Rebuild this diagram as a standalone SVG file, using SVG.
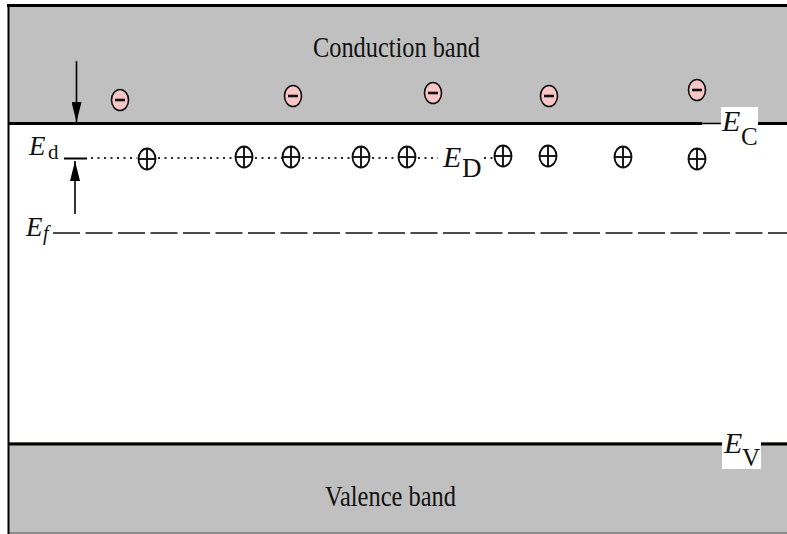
<svg xmlns="http://www.w3.org/2000/svg" width="787" height="534" viewBox="0 0 787 534">
<style>
.band{fill:#c0c0c0}
.lbl{font-family:"Liberation Serif","Times New Roman",serif;fill:#111}
.it{font-style:italic}
.dots{stroke:#2a2a2a;stroke-width:1.8;stroke-dasharray:2 4.5;fill:none}
</style>
<defs>
<marker id="ah" markerWidth="20" markerHeight="10" refX="20" refY="5" orient="auto" markerUnits="userSpaceOnUse">
<path d="M0,0 L20,5 L0,10 Z" fill="#000"/>
</marker>
<g id="m"><ellipse cx="0" cy="0" rx="8.5" ry="10.5" fill="#f8c6c6" stroke="#111" stroke-width="1.6"/><line x1="-5" y1="0" x2="5" y2="0" stroke="#111" stroke-width="2.6"/></g>
<g id="p"><ellipse cx="0" cy="0" rx="8.5" ry="10.5" fill="#fff" stroke="#111" stroke-width="1.9"/><line x1="-8.5" y1="0" x2="8.5" y2="0" stroke="#111" stroke-width="1.9"/><line x1="0" y1="-10.5" x2="0" y2="10.5" stroke="#111" stroke-width="1.9"/></g>
</defs>
<rect width="787" height="534" fill="#fff"/>
<g id="conduction-band">
<rect class="band" x="8" y="5" width="779" height="119"/>
<line x1="7" y1="5.5" x2="787" y2="5.5" stroke="#000" stroke-width="3"/>
<line x1="8" y1="123.5" x2="702" y2="123.5" stroke="#000" stroke-width="3"/>
<line x1="702" y1="123.5" x2="721" y2="123.5" stroke="#000" stroke-width="1.5"/>
<line x1="757" y1="123.5" x2="787" y2="123.5" stroke="#000" stroke-width="3"/>
<text class="lbl" x="313" y="57" font-size="30" textLength="167" lengthAdjust="spacingAndGlyphs">Conduction band</text>
</g>
<g id="valence-band">
<rect class="band" x="8" y="444" width="779" height="90"/>
<line x1="8" y1="533" x2="787" y2="533" stroke="#8c8c8c" stroke-width="2"/>
<line x1="8" y1="442.6" x2="787" y2="442.6" stroke="#b8a888" stroke-width="1"/>
<line x1="8" y1="444" x2="787" y2="444" stroke="#000" stroke-width="3"/>
<text class="lbl" x="325" y="506" font-size="30" textLength="131" lengthAdjust="spacingAndGlyphs">Valence band</text>
</g>
<line id="left-border" x1="8.5" y1="4" x2="8.5" y2="534" stroke="#000" stroke-width="2"/>
<g id="label-Ec">
<rect x="721" y="107" width="37" height="42" fill="#fff"/>
<text class="lbl it" x="722" y="131" font-size="30">E</text>
<text class="lbl" x="741" y="145" font-size="25">C</text>
</g>
<g id="label-Ev">
<rect x="722" y="428" width="39" height="41" fill="#fff"/>
<text class="lbl it" x="724" y="453" font-size="30">E</text>
<text class="lbl" x="742" y="466" font-size="25">V</text>
</g>
<g id="electrons">
<use href="#m" x="120" y="100"/>
<use href="#m" x="293" y="96"/>
<use href="#m" x="433" y="93"/>
<use href="#m" x="549" y="96"/>
<use href="#m" x="697" y="90"/>
</g>
<g id="donor-level">
<line x1="64" y1="158.5" x2="87" y2="158.5" stroke="#000" stroke-width="2"/>
<text class="lbl it" x="29" y="155" font-size="27">E</text>
<text class="lbl" x="48" y="159" font-size="21">d</text>
<path class="dots" d="M91,158H137 M158,158H234 M255,158H282 M302,158H351 M372,158H397 M418,158H438 M484,158H493"/>
<text class="lbl it" x="443" y="167" font-size="30">E</text>
<text class="lbl" x="462" y="177" font-size="27">D</text>
</g>
<g id="donor-ions">
<use href="#p" x="147" y="159"/>
<use href="#p" x="244" y="157"/>
<use href="#p" x="291" y="157"/>
<use href="#p" x="361" y="157"/>
<use href="#p" x="407" y="157"/>
<use href="#p" x="503" y="156"/>
<use href="#p" x="548" y="156"/>
<use href="#p" x="623" y="157"/>
<use href="#p" x="697" y="159"/>
</g>
<g id="fermi-level">
<text class="lbl it" x="26" y="236" font-size="27">E</text>
<text class="lbl it" x="43" y="240" font-size="20">f</text>
<line x1="53" y1="233" x2="787" y2="233" stroke="#111" stroke-width="1.4" stroke-dasharray="27 5.5"/>
</g>
<g id="connectors">
<line x1="76.5" y1="61" x2="76.5" y2="122" stroke="#000" stroke-width="1.6" marker-end="url(#ah)"/>
<line x1="75" y1="214" x2="75" y2="161" stroke="#000" stroke-width="1.6" marker-end="url(#ah)"/>
</g>
</svg>
